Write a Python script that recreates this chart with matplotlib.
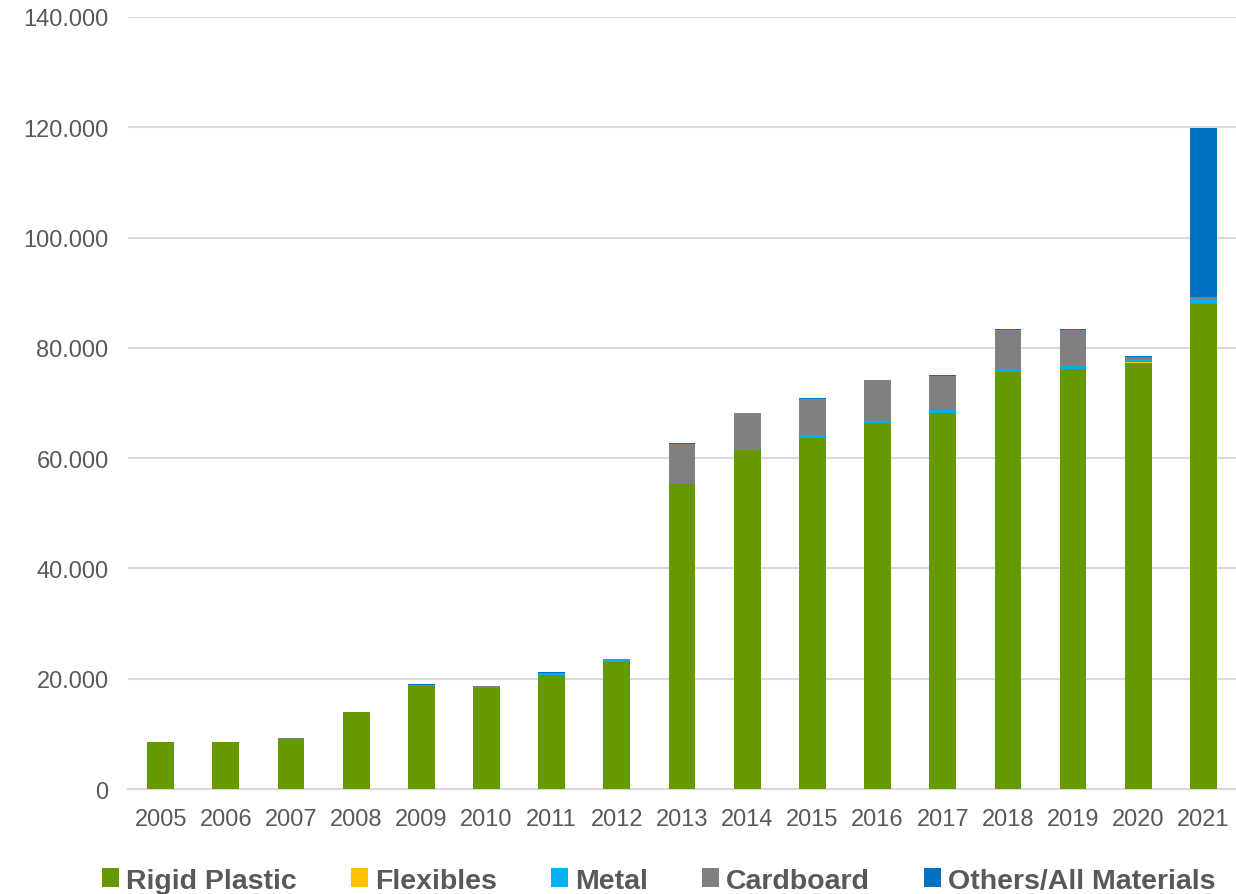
import numpy as np
import matplotlib.pyplot as plt
from matplotlib.patches import Patch
from matplotlib.ticker import FuncFormatter, MultipleLocator

plt.rcParams['font.family'] = ['Liberation Sans', 'DejaVu Sans']

C_RIGID = '#669900'
C_FLEX = '#FFC000'
C_METAL = '#00B0F0'
C_CARD = '#808080'
C_OTHER = '#0070C0'
C_TEXT = '#595959'
C_GRID = '#D9D9D9'

years = [str(y) for y in range(2005, 2022)]

# values in units
rigid = [8500, 8500, 9100, 13900, 18700, 18400, 20600, 23000, 55300,
         61500, 63600, 66300, 68100, 75700, 76200, 77200, 87900]
flexibles = [0, 0, 0, 0, 0, 0, 0, 0, 0, 0, 0, 0, 0, 0, 0, 200, 100]
metal = [0, 0, 0, 0, 200, 0, 300, 400, 100, 200, 600, 500, 600, 500, 500, 400, 600]
cardboard = [0, 100, 100, 100, 0, 200, 200, 100, 7200, 6400, 6600, 7400,
             6200, 7100, 6600, 600, 600]
others = [0, 0, 0, 0, 100, 100, 100, 100, 100, 100, 100, 0, 100, 100, 100, 100, 30700]

series = [
    ('Rigid Plastic', rigid, C_RIGID),
    ('Flexibles', flexibles, C_FLEX),
    ('Metal', metal, C_METAL),
    ('Cardboard', cardboard, C_CARD),
    ('Others/All Materials', others, C_OTHER),
]

fig = plt.figure(figsize=(12.36, 8.95), dpi=100)
ax = fig.add_axes([0.1036, 0.1173, 0.8964, 0.8626])

x = np.arange(len(years))
bottom = np.zeros(len(years))
for label, vals, color in series:
    vals = np.array(vals, dtype=float)
    ax.bar(x, vals, bottom=bottom, width=0.41, color=color, label=label,
           zorder=3, linewidth=0)
    bottom += vals

ax.set_xlim(-0.5, len(years) - 0.5)
ax.set_ylim(0, 140000)
ax.yaxis.set_major_locator(MultipleLocator(20000))
ax.yaxis.set_major_formatter(FuncFormatter(lambda v, p: f'{v:,.0f}'.replace(',', '.')))
ax.set_xticks(x)
ax.set_xticklabels(years)

ax.grid(axis='y', color=C_GRID, linewidth=1.5, zorder=0)
for s in ['top', 'right', 'left']:
    ax.spines[s].set_visible(False)
ax.spines['bottom'].set_color(C_GRID)
ax.spines['bottom'].set_linewidth(1.5)
ax.tick_params(axis='both', length=0, labelsize=17, labelcolor=C_TEXT)
ax.tick_params(axis='y', pad=14)
ax.tick_params(axis='x', pad=14)

handles = [Patch(facecolor=c, label=l) for l, v, c in series]
leg = fig.legend(handles=handles, loc='center', ncol=5, frameon=False,
                 bbox_to_anchor=(0.533, 0.015), fontsize=20.5,
                 handlelength=0.6, handleheight=0.6, handletextpad=0.25,
                 columnspacing=1.9, borderaxespad=0)
for t in leg.get_texts():
    t.set_color(C_TEXT)
    t.set_fontweight('bold')

plt.savefig('out.png', dpi=100, facecolor='white')
